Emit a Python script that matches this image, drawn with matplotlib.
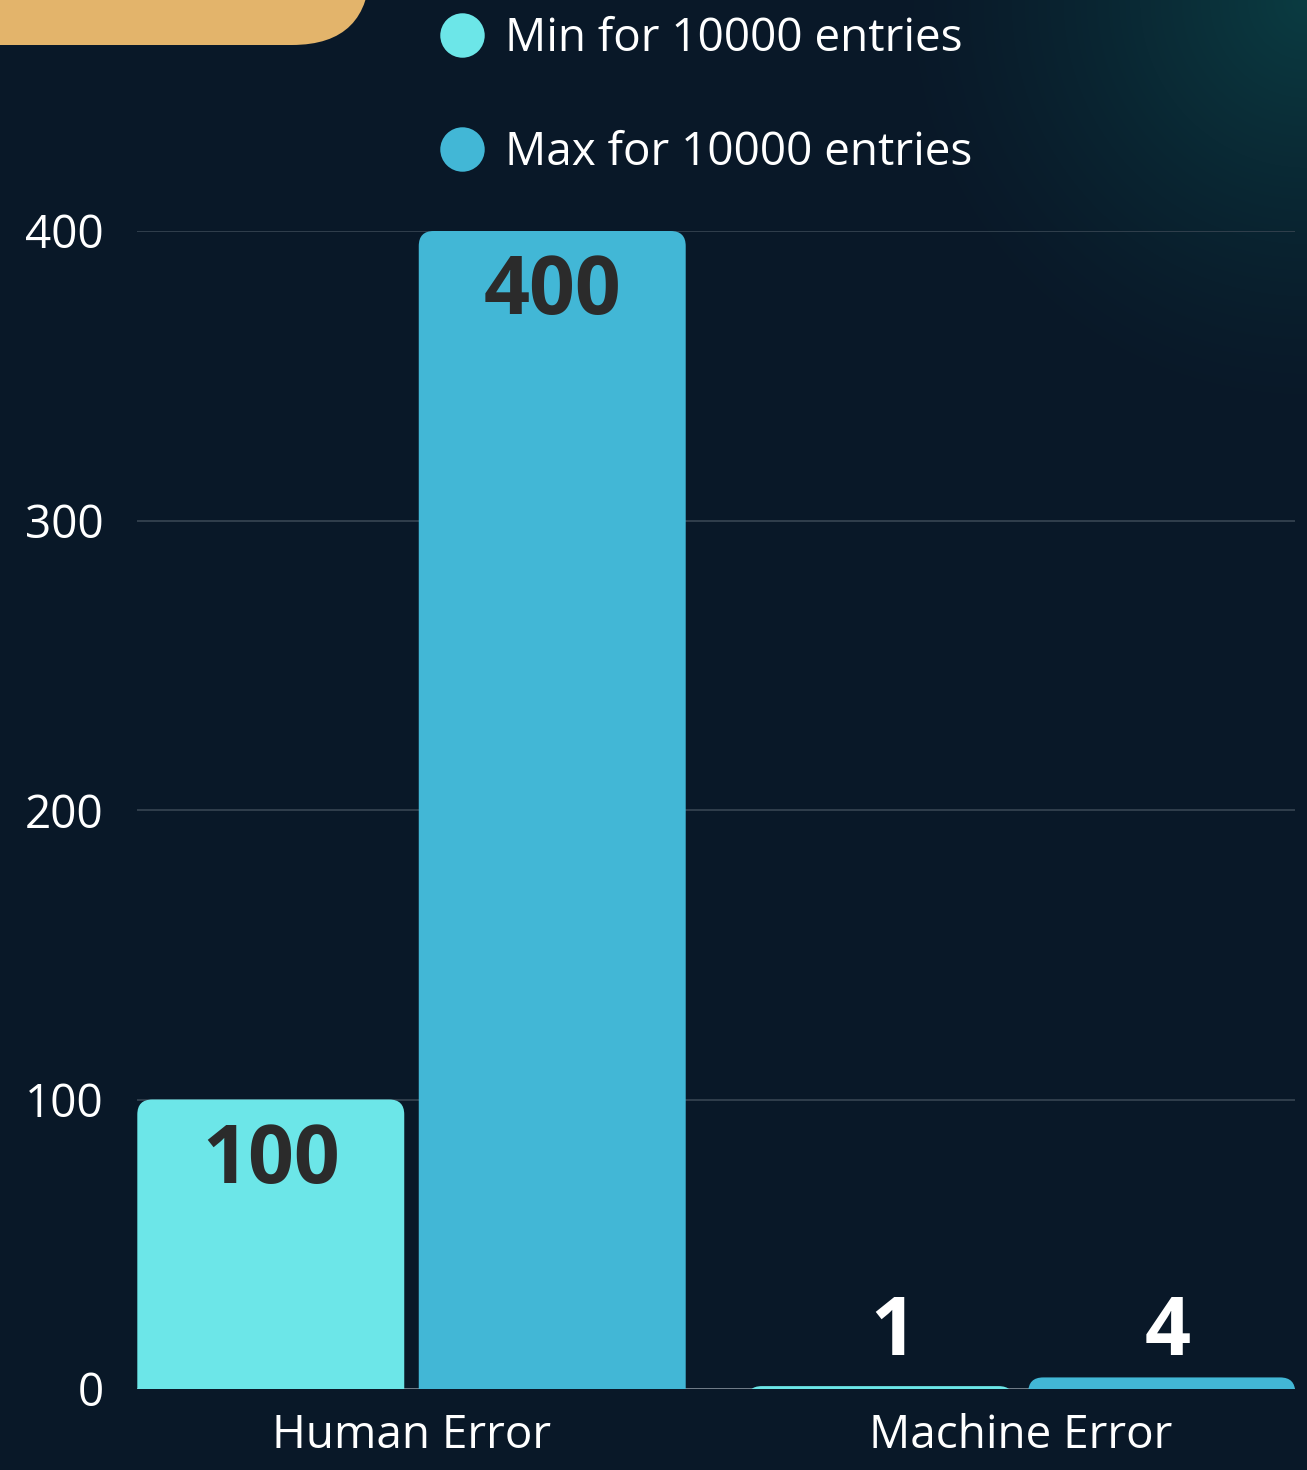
import numpy as np
import matplotlib
matplotlib.use("Agg")
import matplotlib.pyplot as plt
from matplotlib.patches import FancyBboxPatch
from matplotlib.lines import Line2D
from matplotlib.transforms import IdentityTransform

# ---- data ----
categories = ["Human Error", "Machine Error"]
series_names = ["Min for 10000 entries", "Max for 10000 entries"]
min_values = [100, 1]
max_values = [400, 4]
yticks = [0, 100, 200, 300, 400]

# ---- style ----
BG = "#091828"
C_MIN = "#6ce6e8"
C_MAX = "#42b7d6"
GRID = "#34424f"
FONT = ["Open Sans", "DejaVu Sans"]
plt.rcParams["font.family"] = FONT
PT = 72 / 100  # points per pixel

W, H, DPI = 1307, 1470, 100
fig = plt.figure(figsize=(W / DPI, H / DPI), dpi=DPI, facecolor=BG)

# background glow (top-right)
bg_ax = fig.add_axes([0, 0, 1, 1], zorder=-10)
bg_ax.set_axis_off()
yy, xx = np.mgrid[0:H, 0:W]
d = np.hypot(xx - W, yy - 0)
a = np.clip(1 - d / 430.0, 0, 1) ** 1.4
img = np.zeros((H, W, 4))
img[..., 0] = 0x0b / 255
img[..., 1] = 0x3c / 255
img[..., 2] = 0x42 / 255
img[..., 3] = a
bg_ax.imshow(img, extent=[0, W, H, 0], aspect="auto")
bg_ax.set_xlim(0, W)
bg_ax.set_ylim(H, 0)

# orange rounded shape top-left
orange = FancyBboxPatch((-200, H - 45), 570, 300,
                        boxstyle="round,pad=0,rounding_size=78",
                        transform=IdentityTransform(), facecolor="#e3b46b",
                        edgecolor="none", zorder=5)
fig.patches.append(orange)

left, right = 137 / W, 1295 / W
bottom, top = (H - 1389) / H, (H - 231) / H
ax = fig.add_axes([left, bottom, right - left, top - bottom])
ax.set_facecolor("none")
for s in ax.spines.values():
    s.set_visible(False)

x = np.arange(len(categories))
offset = 0.2309
width = 0.438
xlim = (-0.4504, 1.4496)
ylim = (0, 400)
ax.set_xlim(*xlim)
ax.set_ylim(*ylim)

# aspect for rounded corners
ax_w_px = (right - left) * W
ax_h_px = (top - bottom) * H
xu_per_px = (xlim[1] - xlim[0]) / ax_w_px
yu_per_px = (ylim[1] - ylim[0]) / ax_h_px
aspect = yu_per_px / xu_per_px
r_px = 15
ext = 30  # extend below zero (clipped)

ax.set_yticks(yticks)
ax.set_yticklabels([str(v) for v in yticks])
ax.grid(axis="y", color=GRID, lw=1.3, zorder=0)
ax.set_axisbelow(True)
ax.axhline(0, color="#7d8894", lw=1.2, zorder=1)
ax.set_xticks(x)
ax.set_xticklabels(categories)
ax.tick_params(axis="both", length=0, colors="white", labelsize=33)
ax.tick_params(axis="y", pad=24)
ax.tick_params(axis="x", pad=17)

for vals, off, col, small_dx in [(min_values, -offset, C_MIN, 13), (max_values, offset, C_MAX, 6)]:
    bars = ax.bar(x + off, vals, width, color="none", edgecolor="none")
    for b, v in zip(bars, vals):
        p = FancyBboxPatch((b.get_x(), -ext), b.get_width(), v + ext,
                           boxstyle=f"round,pad=0,rounding_size={r_px * xu_per_px}",
                           mutation_aspect=aspect, facecolor=col, edgecolor="none",
                           zorder=3, clip_on=True)
        ax.add_patch(p)
        cx = b.get_x() + b.get_width() / 2
        if v > 50:
            ax.annotate(str(v), (cx, v), xytext=(0, -62 * PT), textcoords="offset points",
                        ha="center", va="center", fontsize=58, fontweight="bold",
                        color="#2b2b2b", zorder=6)
        else:
            ax.annotate(str(v), (cx, 0), xytext=(small_dx * PT, 55 * PT), textcoords="offset points",
                        ha="center", va="center", fontsize=58, fontweight="bold",
                        color="white", zorder=6)

handles = [Line2D([], [], marker="o", ls="none", markersize=32, markerfacecolor=C_MIN,
                  markeredgecolor="none"),
           Line2D([], [], marker="o", ls="none", markersize=32, markerfacecolor=C_MAX,
                  markeredgecolor="none")]
leg = fig.legend(handles, series_names, loc="center left",
                 bbox_to_anchor=(439 / W, 1 - 96 / H), frameon=False,
                 fontsize=33, labelcolor="white", labelspacing=1.49,
                 handlelength=1.0, handletextpad=0.45, borderpad=0, borderaxespad=0)

fig.savefig("out.png", dpi=DPI, facecolor=BG)
